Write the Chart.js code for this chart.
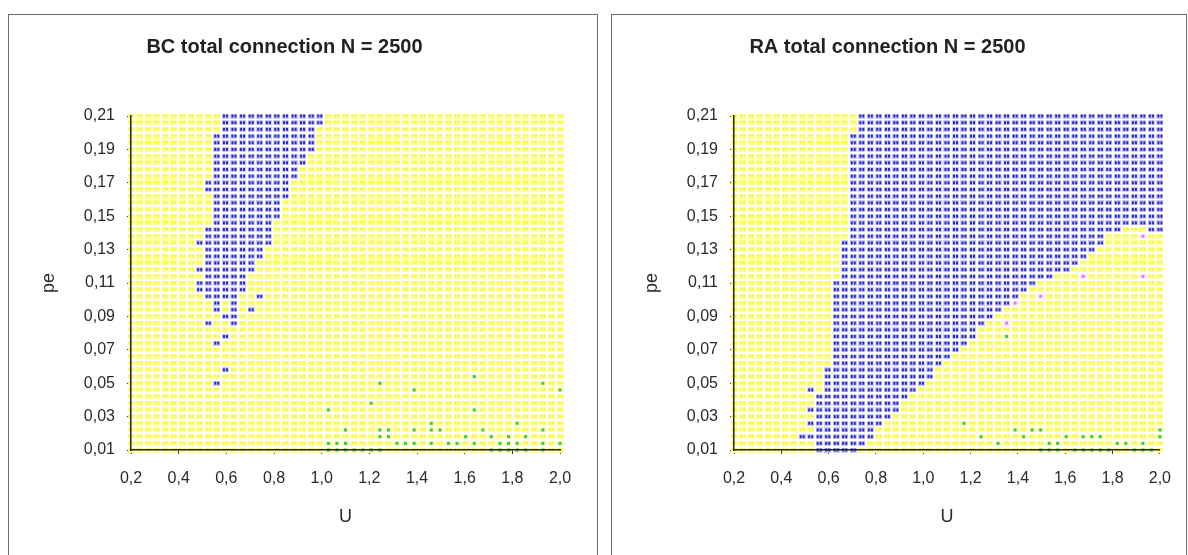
<!DOCTYPE html>
<html>
<head>
<meta charset="utf-8">
<script src="https://cdn.jsdelivr.net/npm/chart.js@4.4.1/dist/chart.umd.min.js"></script>
<style>
  html, body { margin: 0; padding: 0; background: #fff; width: 1188px; height: 555px; overflow: hidden; }
  .panel { position: absolute; top: 14px; height: 560px; border: 1px solid #6b6b6b; background: #fff; }
  #panel-bc { left: 8px; width: 588px; }
  #panel-ra { left: 611px; width: 574px; }
  canvas { position: absolute; left: 0; top: 0; }
</style>
</head>
<body>
<div class="panel" id="panel-bc"><canvas id="bcChart" width="588" height="540"></canvas></div>
<div class="panel" id="panel-ra"><canvas id="raChart" width="574" height="540"></canvas></div>
<script>
// simulation grid (U columns, pe rows)
const uGrid = [0.2, 0.236, 0.272, 0.308, 0.344, 0.38, 0.416, 0.452, 0.488, 0.524,
    0.56, 0.596, 0.632, 0.668, 0.704, 0.74, 0.776, 0.812, 0.848, 0.884,
    0.92, 0.956, 0.992, 1.028, 1.064, 1.1, 1.136, 1.172, 1.208, 1.244,
    1.28, 1.316, 1.352, 1.388, 1.424, 1.46, 1.496, 1.532, 1.568, 1.604,
    1.64, 1.676, 1.712, 1.748, 1.784, 1.82, 1.856, 1.892, 1.928, 1.964, 2.0];
const peGrid = [0.01, 0.014, 0.018, 0.022, 0.026, 0.03, 0.034, 0.038, 0.042, 0.046,
    0.05, 0.054, 0.058, 0.062, 0.066, 0.07, 0.074, 0.078, 0.082, 0.086,
    0.09, 0.094, 0.098, 0.102, 0.106, 0.11, 0.114, 0.118, 0.122, 0.126,
    0.13, 0.134, 0.138, 0.142, 0.146, 0.15, 0.154, 0.158, 0.162, 0.166,
    0.17, 0.174, 0.178, 0.182, 0.186, 0.19, 0.194, 0.198, 0.202, 0.206, 0.21];

const uTicks = [0.2, 0.4, 0.6, 0.8, 1.0, 1.2, 1.4, 1.6, 1.8, 2.0];
const uTickLabels = ['0,2', '0,4', '0,6', '0,8', '1,0', '1,2', '1,4', '1,6', '1,8', '2,0'];
const peTicks = [0.01, 0.03, 0.05, 0.07, 0.09, 0.11, 0.13, 0.15, 0.17, 0.19, 0.21];
const peTickLabels = ['0,01', '0,03', '0,05', '0,07', '0,09', '0,11', '0,13', '0,15', '0,17', '0,19', '0,21'];

// BC: blue band per U column (pe from..to), plus single points
const bcBlueLow = [null, null, null, null, null, null, null, null, null, 0.102,
    0.094, 0.102, 0.086, 0.106, 0.118, 0.126, 0.134, 0.15, 0.162, 0.174,
    0.182, 0.19, 0.206];
const bcBlueHigh = [null, null, null, null, null, null, null, null, null, 0.142,
    0.198, 0.21, 0.21, 0.21, 0.21, 0.21, 0.21, 0.21, 0.21, 0.21,
    0.21, 0.21, 0.21];
const bcBlueU = [0.488, 0.488, 0.488, 0.488, 0.524, 0.524, 0.524, 0.56, 0.56, 0.596, 0.596, 0.596, 0.704, 0.74];
const bcBluePe = [0.134, 0.118, 0.11, 0.106, 0.17, 0.166, 0.086, 0.074, 0.05, 0.09, 0.078, 0.058, 0.094, 0.102];
const bcGreenU = [1.028, 1.028, 1.064, 1.1, 1.1, 1.208, 1.244, 1.244, 1.244, 1.28, 1.28, 1.316, 1.352,
    1.388, 1.388, 1.388, 1.46, 1.46, 1.46, 1.496, 1.532, 1.568, 1.604, 1.64, 1.64, 1.64,
    1.676, 1.712, 1.748, 1.784, 1.784, 1.82, 1.82, 1.856, 1.928, 1.928, 1.928, 2.0, 2.0,
    1.028, 1.064, 1.1, 1.136, 1.172, 1.208, 1.244, 1.712, 1.748, 1.784, 1.82, 1.856, 1.928];
const bcGreenPe = [0.034, 0.014, 0.014, 0.014, 0.022, 0.038, 0.05, 0.022, 0.018, 0.022, 0.018, 0.014, 0.014,
    0.046, 0.022, 0.014, 0.026, 0.022, 0.014, 0.022, 0.014, 0.014, 0.018, 0.054, 0.034, 0.014,
    0.022, 0.018, 0.014, 0.018, 0.014, 0.026, 0.014, 0.018, 0.05, 0.022, 0.014, 0.046, 0.014,
    0.01, 0.01, 0.01, 0.01, 0.01, 0.01, 0.01, 0.01, 0.01, 0.01, 0.01, 0.01, 0.01];

// RA
const raBlueLow = [null, null, null, null, null, null, null, null, null, null,
    0.01, 0.01, 0.01, 0.01, 0.01, 0.014, 0.018, 0.026, 0.03, 0.034,
    0.042, 0.046, 0.05, 0.054, 0.062, 0.066, 0.07, 0.074, 0.078, 0.086,
    0.09, 0.094, 0.098, 0.102, 0.106, 0.11, 0.114, 0.114, 0.118, 0.118,
    0.122, 0.126, 0.13, 0.134, 0.142, 0.142, 0.146, 0.146, 0.146, 0.142, 0.142];
const raBlueHigh = [null, null, null, null, null, null, null, null, null, null,
    0.042, 0.058, 0.11, 0.134, 0.198, 0.21, 0.21, 0.21, 0.21, 0.21,
    0.21, 0.21, 0.21, 0.21, 0.21, 0.21, 0.21, 0.21, 0.21, 0.21,
    0.21, 0.21, 0.21, 0.21, 0.21, 0.21, 0.21, 0.21, 0.21, 0.21,
    0.21, 0.21, 0.21, 0.21, 0.21, 0.21, 0.21, 0.21, 0.21, 0.21, 0.21];
const raBlueU = [0.488, 0.524, 0.524, 0.524, 0.524];
const raBluePe = [0.018, 0.018, 0.026, 0.034, 0.046];
const raGreenU = [1.172, 1.388, 1.46, 1.496, 1.244, 1.316, 1.424, 1.532, 1.568, 1.604, 1.676, 1.712,
    1.748, 1.82, 1.856, 1.928, 2.0, 2.0, 1.352,
    1.496, 1.532, 1.568, 1.64, 1.676, 1.712, 1.748, 1.784, 1.892, 1.928, 1.964];
const raGreenPe = [0.026, 0.022, 0.022, 0.022, 0.018, 0.014, 0.018, 0.014, 0.014, 0.018, 0.018, 0.018,
    0.018, 0.014, 0.014, 0.014, 0.022, 0.018, 0.078,
    0.01, 0.01, 0.01, 0.01, 0.01, 0.01, 0.01, 0.01, 0.01, 0.01, 0.01];
const raPinkU = [1.352, 1.388, 1.496, 1.676, 1.928, 1.928];
const raPinkPe = [0.086, 0.098, 0.102, 0.114, 0.138, 0.114];

function near(a, b) { return Math.abs(a - b) < 0.0005; }

function inList(us, pes, u, p) {
    for (let i = 0; i < us.length; i++) {
        if (near(us[i], u) && near(pes[i], p)) return true;
    }
    return false;
}

function splitGrid(low, high, blueU, bluePe, greenU, greenPe, pinkU, pinkPe) {
    const yellow = [], blue = [], green = [], pink = [];
    uGrid.forEach((u, k) => {
        peGrid.forEach(p => {
            const pt = { x: u, y: p };
            const inBand = low[k] != null && p >= low[k] - 1e-6 && p <= high[k] + 1e-6;
            if (inList(greenU, greenPe, u, p)) green.push(pt);
            else if (inList(pinkU, pinkPe, u, p)) pink.push(pt);
            else if (inBand || inList(blueU, bluePe, u, p)) blue.push(pt);
            else yellow.push(pt);
        });
    });
    return { yellow, blue, green, pink };
}

function cell(bg, dotColor, dots) {
    const c = document.createElement('canvas');
    c.width = 7; c.height = 5;
    const g = c.getContext('2d');
    g.fillStyle = bg;
    g.fillRect(0, 0, 7, 5);
    g.fillStyle = dotColor;
    dots.forEach(d => g.fillRect(d[0], d[1], d[2], d[3]));
    return c;
}

const yellowCell = cell('rgb(255,255,150)', 'rgb(246,246,60)', [[1, 1, 2, 2], [4, 1, 2, 2]]);
const blueCell = cell('rgb(205,205,248)', 'rgb(40,40,196)', [[1, 1, 2, 3], [4, 1, 2, 3]]);
const greenCell = cell('rgb(255,255,170)', 'rgb(50,200,90)', [[2, 1, 3, 3]]);
const pinkCell = cell('rgb(255,235,250)', 'rgb(240,120,230)', [[2, 1, 3, 3]]);

const textColor = '#2a2a2a';
const tickFont = { family: 'Liberation Sans', size: 16 };
const axisTitleFont = { family: 'Liberation Sans', size: 18 };

function makeChart(id, title, pts, padRight) {
    const ds = (data, img) => ({ data: data, pointStyle: img, pointRadius: 3, clip: false });
    new Chart(document.getElementById(id), {
        type: 'scatter',
        data: {
            datasets: [ds(pts.green, greenCell), ds(pts.pink, pinkCell), ds(pts.blue, blueCell), ds(pts.yellow, yellowCell)]
        },
        options: {
            responsive: false,
            animation: false,
            events: [],
            layout: { padding: { left: 0, right: padRight, top: 0, bottom: 5 } },
            plugins: {
                legend: { display: false },
                tooltip: { enabled: false },
                title: {
                    display: true, text: title, color: '#222',
                    font: { family: 'Liberation Sans', size: 20, weight: 'bold' },
                    padding: { top: 20, bottom: 57 }
                }
            },
            scales: {
                x: {
                    type: 'linear', min: 0.2, max: 2.0,
                    afterBuildTicks: s => { s.ticks = uTicks.map(v => ({ value: v })); },
                    afterFit: s => { s.height = 100; },
                    ticks: { callback: (v, i) => uTickLabels[i], font: tickFont, color: textColor, padding: 15, maxRotation: 0, autoSkip: false },
                    grid: { display: true, drawOnChartArea: false, drawTicks: true, tickLength: 4, tickColor: '#333' },
                    border: { display: true, color: '#222', width: 1.5, dash: [3, 3], z: 1 },
                    title: { display: true, text: 'U', font: axisTitleFont, color: textColor, padding: { top: 0, bottom: 22 } }
                },
                y: {
                    type: 'linear', min: 0.01, max: 0.21,
                    afterBuildTicks: s => { s.ticks = peTicks.map(v => ({ value: v })); },
                    afterFit: s => { s.width = 122; },
                    ticks: { callback: (v, i) => peTickLabels[i], font: tickFont, color: textColor, padding: 12, autoSkip: false },
                    grid: { display: true, drawOnChartArea: false, drawTicks: true, tickLength: 4, tickColor: '#333' },
                    border: { display: true, color: '#222', width: 1.5, dash: [3, 3], z: 1 },
                    title: { display: true, text: 'pe', font: axisTitleFont, color: textColor, padding: { top: 29, bottom: 0 } }
                }
            }
        }
    });
}

const bcPoints = splitGrid(bcBlueLow, bcBlueHigh, bcBlueU, bcBluePe, bcGreenU, bcGreenPe, [], []);
const raPoints = splitGrid(raBlueLow, raBlueHigh, raBlueU, raBluePe, raGreenU, raGreenPe, raPinkU, raPinkPe);

makeChart('bcChart', 'BC total connection N = 2500', bcPoints, 37);
makeChart('raChart', 'RA total connection N = 2500', raPoints, 23);
</script>
</body>
</html>
